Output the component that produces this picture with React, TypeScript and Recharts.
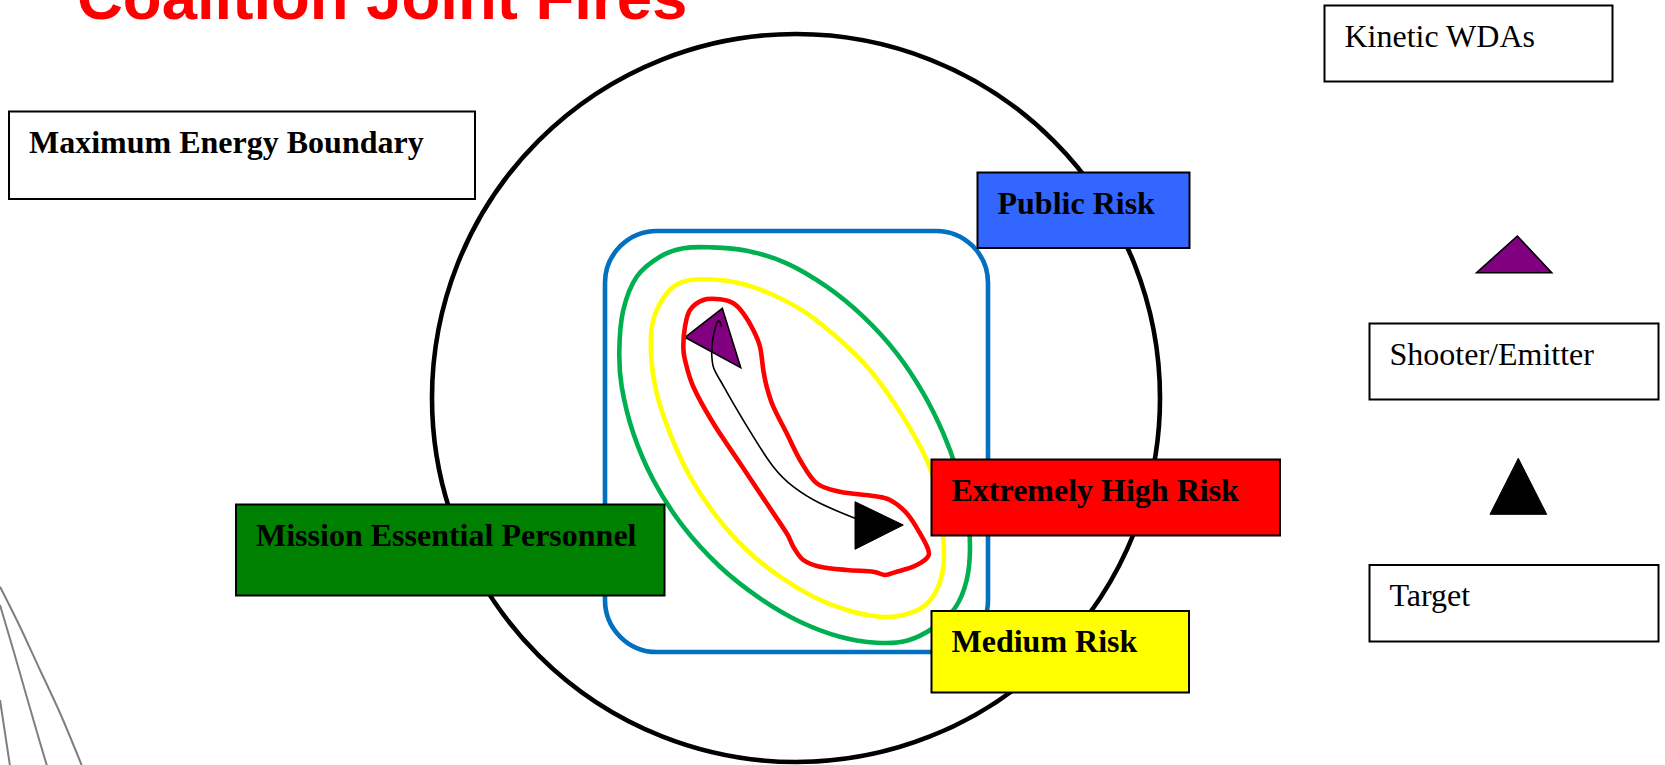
import React from 'react';
import { ComposedChart, XAxis, YAxis, Line, Area, ReferenceArea, ReferenceDot } from 'recharts';

const W = 1665;
const H = 765;

// ---- values (page pixels, y grows downward) ----
const boundaryCentre = [{ x: 796, y: 398 }];
const boundaryRadius = 364;

const publicRiskZone = { x1: 605, x2: 988, y1: 231, y2: 652 };

const missionEssentialContour = [
  { x: 710, y: 247.3 }, { x: 746.7, y: 250.7 }, { x: 786.7, y: 263.3 }, { x: 826.7, y: 286.7 },
  { x: 863.3, y: 316.7 }, { x: 896.7, y: 353.3 }, { x: 923.3, y: 393.3 }, { x: 943.3, y: 433.3 },
  { x: 956.7, y: 470 }, { x: 966.7, y: 510 }, { x: 970, y: 546.7 }, { x: 966.7, y: 580 },
  { x: 955, y: 608 }, { x: 933.3, y: 628 }, { x: 906.7, y: 640.7 }, { x: 876.7, y: 642.7 },
  { x: 840, y: 636.7 }, { x: 800, y: 621.7 }, { x: 760, y: 598.3 }, { x: 720, y: 566.7 },
  { x: 683.3, y: 526.7 }, { x: 653.3, y: 480 }, { x: 633.3, y: 433.3 }, { x: 621.7, y: 386.7 },
  { x: 619.3, y: 350 }, { x: 623.3, y: 310 }, { x: 636.7, y: 276.7 }, { x: 660, y: 256.7 },
  { x: 683.3, y: 248.3 },
];

const mediumRiskContour = [
  { x: 706.7, y: 279.3 }, { x: 740, y: 283.3 }, { x: 773.3, y: 295 }, { x: 806.7, y: 313.3 },
  { x: 840, y: 340 }, { x: 870, y: 370 }, { x: 896.7, y: 406.7 }, { x: 916.7, y: 440 },
  { x: 930, y: 468 }, { x: 939, y: 503 }, { x: 943.3, y: 536.7 }, { x: 943.3, y: 566.7 },
  { x: 936.7, y: 590 }, { x: 923.3, y: 606.7 }, { x: 903.3, y: 615 }, { x: 880, y: 616.7 },
  { x: 846.7, y: 610 }, { x: 813.3, y: 596.7 }, { x: 780, y: 576.7 }, { x: 746.7, y: 550 },
  { x: 716.7, y: 516.7 }, { x: 690, y: 476.7 }, { x: 670, y: 433.3 }, { x: 656.7, y: 393.3 },
  { x: 651, y: 353.3 }, { x: 653.3, y: 320 }, { x: 666.7, y: 293.3 }, { x: 683.3, y: 281.7 },
];

const extremeRiskContour = [
  { x: 703.3, y: 300 }, { x: 720, y: 299.3 }, { x: 733.3, y: 303.3 }, { x: 743.3, y: 313.3 },
  { x: 753.3, y: 330 }, { x: 760, y: 346.7 }, { x: 763.3, y: 370 }, { x: 766.7, y: 386.7 },
  { x: 773.3, y: 406.7 }, { x: 786.7, y: 433.3 }, { x: 800, y: 460 }, { x: 816.7, y: 483.3 },
  { x: 840, y: 491.7 }, { x: 873.3, y: 496 }, { x: 890, y: 500 }, { x: 906.7, y: 513.3 },
  { x: 920, y: 533.3 }, { x: 928.3, y: 550 }, { x: 926.7, y: 558.3 }, { x: 913.3, y: 566.7 },
  { x: 896.7, y: 571.7 }, { x: 885, y: 575 }, { x: 873.3, y: 571.7 }, { x: 846.7, y: 570 },
  { x: 820, y: 566.7 }, { x: 803.3, y: 560 }, { x: 793.3, y: 546.7 }, { x: 786.7, y: 533.3 },
  { x: 766.7, y: 503.3 }, { x: 740, y: 463.3 }, { x: 713.3, y: 423.3 }, { x: 693.3, y: 386.7 },
  { x: 685, y: 360 }, { x: 683.3, y: 346.7 }, { x: 685, y: 326.7 }, { x: 690, y: 310 },
];

const fireTrajectory = [
  { x: 721.7, y: 326.7 }, { x: 717.7, y: 321.7 }, { x: 712.7, y: 340 }, { x: 711.7, y: 353.3 },
  { x: 713.3, y: 366.7 }, { x: 720, y: 380 }, { x: 733.3, y: 403.3 }, { x: 753.3, y: 436.7 },
  { x: 773.3, y: 466.7 }, { x: 793.3, y: 486.7 }, { x: 820, y: 503.3 }, { x: 855, y: 518.3 },
];

const shooterMark = [{ x: 722.3, y: 308.3 }, { x: 685, y: 337.3 }, { x: 740.7, y: 367.7 }];
const targetMark = [{ x: 855, y: 501.7 }, { x: 903.3, y: 525 }, { x: 855, y: 549.3 }];
const shooterLegendMark = [{ x: 1476.7, y: 272.7 }, { x: 1517.3, y: 236 }, { x: 1551.7, y: 272.7 }];
const targetLegendMark = [{ x: 1518.3, y: 458.3 }, { x: 1490, y: 514.3 }, { x: 1546.7, y: 514.3 }];

const decoLine1 = [{ x: 0, y: 586.7 }, { x: 20, y: 626.7 }, { x: 40, y: 670 }, { x: 60, y: 713 }, { x: 82, y: 766 }];
const decoLine2 = [{ x: 0, y: 605 }, { x: 13.3, y: 650 }, { x: 26.7, y: 696.7 }, { x: 38.3, y: 736.7 }, { x: 47, y: 766 }];
const decoLine3 = [{ x: 0, y: 700 }, { x: 5, y: 733 }, { x: 10, y: 766 }];

const titleText = 'Coalition Joint Fires';

const boxLabels = [
  'Maximum Energy Boundary', 'Kinetic WDAs', 'Public Risk', 'Shooter/Emitter',
  'Extremely High Risk', 'Mission Essential Personnel', 'Target', 'Medium Risk',
];
const boxX1 = [9, 1324.5, 977.5, 1369.5, 931.5, 236, 1369.5, 931.5];
const boxX2 = [475, 1612.5, 1189.5, 1658.5, 1280, 664.5, 1658.5, 1189];
const boxY1 = [111.5, 5.5, 172.5, 323.5, 459.5, 504.5, 565, 611];
const boxY2 = [199, 81.5, 248, 399.5, 535.5, 595.5, 641.5, 692.5];

// ---- styles ----
const boxFill: Record<string, string> = {
  'Public Risk': '#3366FF',
  'Extremely High Risk': '#FF0000',
  'Mission Essential Personnel': '#008000',
  'Medium Risk': '#FFFF00',
};
const boldBoxes = new Set(['Maximum Energy Boundary', 'Public Risk', 'Extremely High Risk', 'Mission Essential Personnel', 'Medium Risk']);
const SERIF = "'Liberation Serif', 'Times New Roman', Times, serif";

// closed Catmull-Rom curve that passes through every read point
function closedSmooth(context: any) {
  let pts: number[][] = [];
  let lineNo = 0;
  let inArea = false;
  return {
    areaStart() { inArea = true; lineNo = 0; },
    areaEnd() { inArea = false; },
    lineStart() { pts = []; lineNo += 1; },
    point(x: number, y: number) { pts.push([+x, +y]); },
    lineEnd() {
      if (inArea && lineNo > 1) return;
      const n = pts.length;
      if (!n) return;
      context.moveTo(pts[0][0], pts[0][1]);
      for (let i = 0; i < n; i++) {
        const p0 = pts[(i + n - 1) % n];
        const p1 = pts[i];
        const p2 = pts[(i + 1) % n];
        const p3 = pts[(i + 2) % n];
        context.bezierCurveTo(
          p1[0] + (p2[0] - p0[0]) / 6, p1[1] + (p2[1] - p0[1]) / 6,
          p2[0] - (p3[0] - p1[0]) / 6, p2[1] - (p3[1] - p1[1]) / 6,
          p2[0], p2[1],
        );
      }
      context.closePath();
    },
  };
}

const axes = [
  <XAxis key="x" type="number" dataKey="x" domain={[0, W]} hide allowDataOverflow />,
  <YAxis key="y" type="number" domain={[0, H]} hide reversed allowDataOverflow />,
];
const margin = { top: 0, right: 0, bottom: 0, left: 0 };
const layer: React.CSSProperties = { position: 'absolute', left: 0, top: 0 };
const CONTOUR_W = 4.6;

export default function App() {
  return (
    <div style={{ position: 'absolute', left: 0, top: 0, width: W, height: H, background: '#fff', overflow: 'hidden' }}>
      <div style={layer}>
        <ComposedChart width={W} height={H} margin={margin}>
          {axes}
          <ReferenceDot x={boundaryCentre[0].x} y={boundaryCentre[0].y} r={boundaryRadius} fill="none" stroke="#000" strokeWidth={4.6} ifOverflow="visible" />
          <ReferenceArea
            x1={publicRiskZone.x1} x2={publicRiskZone.x2} y1={publicRiskZone.y1} y2={publicRiskZone.y2}
            ifOverflow="visible"
            shape={(p: any) => (
              <rect x={p.x} y={p.y} width={p.width} height={p.height} rx={52} ry={52} fill="none" stroke="#0070C0" strokeWidth={CONTOUR_W} />
            )}
          />
          <Line data={decoLine1} dataKey="y" type="natural" stroke="#7f7f7f" strokeWidth={2} dot={false} activeDot={false} isAnimationActive={false} />
          <Line data={decoLine2} dataKey="y" type="natural" stroke="#7f7f7f" strokeWidth={2} dot={false} activeDot={false} isAnimationActive={false} />
          <Line data={decoLine3} dataKey="y" type="natural" stroke="#7f7f7f" strokeWidth={2} dot={false} activeDot={false} isAnimationActive={false} />
          <Line data={missionEssentialContour} dataKey="y" type={closedSmooth as any} stroke="#00B050" strokeWidth={CONTOUR_W} dot={false} activeDot={false} isAnimationActive={false} />
          <Line data={mediumRiskContour} dataKey="y" type={closedSmooth as any} stroke="#FFFF00" strokeWidth={CONTOUR_W} dot={false} activeDot={false} isAnimationActive={false} />
          <Line data={extremeRiskContour} dataKey="y" type={closedSmooth as any} stroke="#FF0000" strokeWidth={CONTOUR_W} dot={false} activeDot={false} isAnimationActive={false} />
          <Area data={shooterMark} dataKey="y" type="linearClosed" fill="#800080" fillOpacity={1} stroke="#000" strokeWidth={1.6} dot={false} activeDot={false} isAnimationActive={false} />
          <Area data={shooterLegendMark} dataKey="y" type="linearClosed" fill="#800080" fillOpacity={1} stroke="#000" strokeWidth={1.6} dot={false} activeDot={false} isAnimationActive={false} />
          <Area data={targetLegendMark} dataKey="y" type="linearClosed" fill="#000" fillOpacity={1} stroke="#000" strokeWidth={1} dot={false} activeDot={false} isAnimationActive={false} />
          <Line data={fireTrajectory} dataKey="y" type="natural" stroke="#000" strokeWidth={1.6} dot={false} activeDot={false} isAnimationActive={false} />
          <Area data={targetMark} dataKey="y" type="linearClosed" fill="#000" fillOpacity={1} stroke="#000" strokeWidth={1} dot={false} activeDot={false} isAnimationActive={false} />
        </ComposedChart>
      </div>
      <div style={layer}>
        <ComposedChart width={W} height={H} margin={margin}>
          {axes}
          {boxLabels.map((label, i) => (
            <ReferenceArea
              key={label}
              x1={boxX1[i]} x2={boxX2[i]} y1={boxY1[i]} y2={boxY2[i]}
              ifOverflow="visible"
              shape={(p: any) => (
                <g>
                  <rect x={p.x} y={p.y} width={p.width} height={p.height} fill={boxFill[label] || '#fff'} stroke="#000" strokeWidth={2} />
                  <text
                    x={p.x + 20}
                    y={p.y + 41}
                    fontFamily={SERIF}
                    fontSize={32}
                    fontWeight={boldBoxes.has(label) ? 700 : 400}
                    fill="#000"
                  >
                    {label}
                  </text>
                </g>
              )}
            />
          ))}
          <text x={77} y={19} fontFamily="'Liberation Sans', Arial, Helvetica, sans-serif" fontWeight={700} fontSize={63.5} fill="#FF0000">
            {titleText}
          </text>
        </ComposedChart>
      </div>
    </div>
  );
}
